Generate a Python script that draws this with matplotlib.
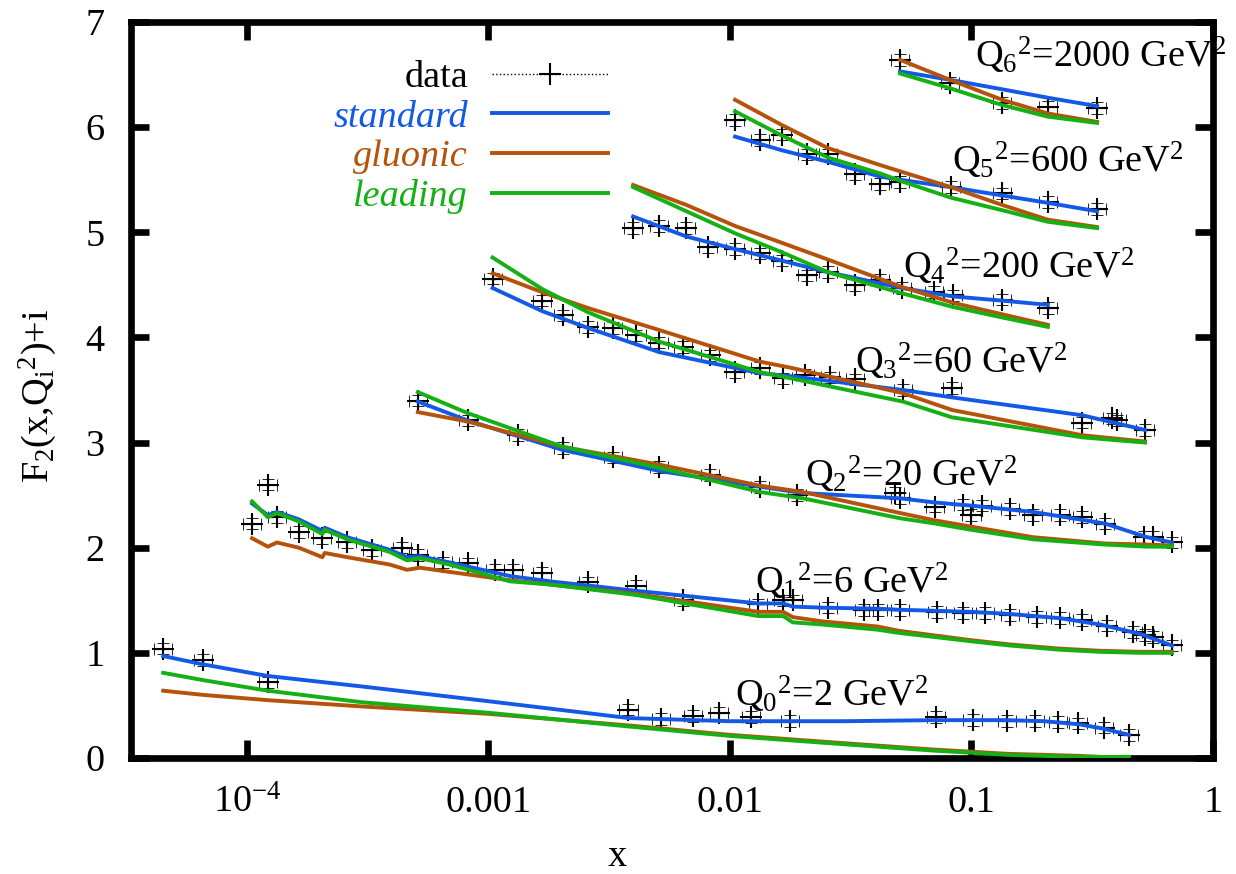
import matplotlib
matplotlib.use("Agg")
import matplotlib.pyplot as plt
from matplotlib.lines import Line2D
import numpy as np

plt.rcParams['font.family'] = ['Liberation Serif', 'DejaVu Serif']
plt.rcParams['mathtext.fontset'] = 'custom'
plt.rcParams['mathtext.rm'] = 'Liberation Serif'
plt.rcParams['mathtext.it'] = 'Liberation Serif:italic'
plt.rcParams['font.size'] = 27.5

# ---- measured F2 (without the +i offset) and model curves, per Q^2 bin ----
q0_x = [4.5e-5, 6.6e-5, 1.22e-4, 3.8e-3, 5.2e-3, 7.0e-3, 9.0e-3, 1.22e-2, 1.77e-2,
        0.071, 0.101, 0.140, 0.183, 0.228, 0.276, 0.354, 0.449]
q0_f2 = [1.04, 0.93, 0.72, 0.46, 0.37, 0.40, 0.43, 0.39, 0.35,
         0.39, 0.36, 0.35, 0.35, 0.34, 0.33, 0.29, 0.22]
q0_cx = [4.5e-5, 6.6e-5, 1.22e-4, 3e-4, 1e-3, 3.8e-3, 1e-2, 3e-2, 0.07, 0.1,
         0.14, 0.2, 0.28, 0.35, 0.449]
q0_std = [0.97, 0.89, 0.78, 0.68, 0.54, 0.38, 0.35, 0.35, 0.36, 0.36, 0.36, 0.35, 0.32, 0.28, 0.22]
q0_glu = [0.64, 0.60, 0.55, 0.49, 0.42, 0.31, 0.22, 0.14, 0.08, 0.06, 0.04, 0.03, 0.02, 0.01, 0.01]
q0_lead = [0.81, 0.74, 0.64, 0.53, 0.43, 0.30, 0.21, 0.13, 0.07, 0.05, 0.03, 0.02, 0.01, 0.01, 0.01]

q1_x = [1.05e-4, 1.22e-4, 1.33e-4, 1.64e-4, 2.05e-4, 2.6e-4, 3.3e-4, 4.4e-4, 5.1e-4,
        6.5e-4, 8.2e-4, 1.06e-3, 1.26e-3, 1.67e-3, 2.58e-3, 4.1e-3, 6.4e-3, 1.31e-2,
        1.66e-2, 1.82e-2, 0.0255, 0.036, 0.041, 0.0506, 0.072, 0.092, 0.114, 0.144,
        0.187, 0.232, 0.287, 0.364, 0.466, 0.523, 0.565, 0.676]
q1_f2 = [1.23, 1.60, 1.29, 1.15, 1.09, 1.05, 0.98, 1.00, 0.93,
         0.86, 0.85, 0.79, 0.79, 0.76, 0.67, 0.64, 0.50, 0.46,
         0.50, 0.50, 0.43, 0.41, 0.41, 0.41, 0.39, 0.38, 0.38, 0.36,
         0.34, 0.33, 0.31, 0.26, 0.20, 0.17, 0.15, 0.07]
q1_cx = [1.05e-4, 1.22e-4, 1.33e-4, 1.64e-4, 2.05e-4, 2.1e-4, 2.6e-4, 3.9e-4, 4.6e-4,
         5.2e-4, 6.9e-4, 1.23e-3, 1.8e-3, 4.1e-3, 1.31e-2, 1.66e-2, 1.82e-2, 2.4e-2,
         0.041, 0.05, 0.1, 0.144, 0.232, 0.34, 0.5, 0.676]
q1_std = [1.42, 1.31, 1.34, 1.27, 1.16, 1.19, 1.10, 0.98, 0.91, 0.92, 0.86, 0.73, 0.68,
          0.59, 0.47, 0.47, 0.44, 0.43, 0.42, 0.41, 0.39, 0.37, 0.33, 0.27, 0.18, 0.07]
q1_glu = [1.09, 1.01, 1.05, 1.00, 0.91, 0.95, 0.91, 0.84, 0.79, 0.81, 0.77, 0.69, 0.65,
          0.56, 0.39, 0.39, 0.34, 0.30, 0.25, 0.21, 0.12, 0.08, 0.04, 0.02, 0.01, 0.01]
q1_lead = [1.44, 1.29, 1.33, 1.25, 1.13, 1.17, 1.08, 0.96, 0.88, 0.90, 0.84, 0.68, 0.65,
           0.55, 0.35, 0.35, 0.29, 0.27, 0.22, 0.19, 0.11, 0.07, 0.03, 0.01, 0.00, 0.00]

q2_x = [5.1e-4, 8.2e-4, 1.33e-3, 2.03e-3, 3.28e-3, 5.1e-3, 8.3e-3, 1.33e-2, 1.89e-2,
        0.048, 0.0506, 0.0706, 0.092, 0.100, 0.111, 0.144, 0.18, 0.232, 0.287, 0.357,
        0.52, 0.565, 0.676]
q2_f2 = [1.40, 1.21, 1.07, 0.95, 0.86, 0.77, 0.69, 0.58, 0.50,
         0.52, 0.47, 0.39, 0.41, 0.31, 0.40, 0.37, 0.31, 0.31, 0.29, 0.23,
         0.10, 0.10, 0.05]
q2_cx = [5.1e-4, 8.2e-4, 2.03e-3, 5.1e-3, 1.33e-2, 2.0e-2, 0.0506, 0.0706, 0.1, 0.18,
         0.357, 0.533, 0.676]
q2_std = [1.39, 1.21, 0.93, 0.73, 0.58, 0.52, 0.47, 0.43, 0.40, 0.34, 0.23, 0.10, 0.05]
q2_glu = [1.29, 1.20, 0.96, 0.79, 0.59, 0.53, 0.33, 0.26, 0.20, 0.10, 0.04, 0.03, 0.02]
q2_lead = [1.48, 1.28, 0.96, 0.76, 0.53, 0.47, 0.28, 0.23, 0.17, 0.08, 0.03, 0.01, 0.01]

q3_x = [1.04e-3, 1.67e-3, 2.03e-3, 2.58e-3, 3.28e-3, 4.1e-3, 5.1e-3, 6.4e-3, 8.3e-3,
        1.05e-2, 1.33e-2, 1.66e-2, 2.05e-2, 2.6e-2, 3.3e-2, 5.2e-2, 8.3e-2, 0.287,
        0.382, 0.40, 0.523]
q3_f2 = [1.56, 1.35, 1.21, 1.10, 1.09, 1.02, 0.95, 0.91, 0.83,
         0.67, 0.71, 0.61, 0.64, 0.62, 0.60, 0.50, 0.52, 0.19,
         0.23, 0.21, 0.12]
q3_cx = [1.04e-3, 1.67e-3, 2.58e-3, 5.1e-3, 1.33e-2, 1.8e-2, 5.2e-2, 8.3e-2, 0.287, 0.523]
q3_std = [1.47, 1.25, 1.09, 0.86, 0.66, 0.63, 0.50, 0.43, 0.26, 0.12]
q3_glu = [1.61, 1.43, 1.28, 1.07, 0.77, 0.71, 0.47, 0.31, 0.07, 0.01]
q3_lead = [1.76, 1.46, 1.24, 0.96, 0.67, 0.61, 0.39, 0.24, 0.05, 0.00]

q4_x = [3.97e-3, 5.1e-3, 6.6e-3, 8.1e-3, 1.05e-2, 1.33e-2, 1.64e-2, 2.08e-2, 2.55e-2,
        3.3e-2, 4.18e-2, 5.15e-2, 7.0e-2, 8.38e-2, 0.134, 0.207]
q4_f2 = [1.04, 1.06, 1.04, 0.86, 0.84, 0.80, 0.73, 0.59, 0.62,
         0.50, 0.55, 0.47, 0.43, 0.40, 0.36, 0.28]
q4_cx = [3.97e-3, 6.6e-3, 1.05e-2, 1.64e-2, 2.55e-2, 5.15e-2, 8.38e-2, 0.134, 0.207]
q4_std = [1.15, 0.96, 0.84, 0.73, 0.62, 0.47, 0.39, 0.35, 0.31]
q4_glu = [1.45, 1.26, 1.06, 0.90, 0.74, 0.48, 0.33, 0.22, 0.12]
q4_lead = [1.43, 1.20, 0.99, 0.81, 0.62, 0.42, 0.29, 0.19, 0.10]

q5_x = [0.0105, 0.0133, 0.0164, 0.0208, 0.0255, 0.033, 0.0418, 0.0506, 0.082, 0.134,
        0.207, 0.331]
q5_f2 = [1.07, 0.88, 0.93, 0.74, 0.74, 0.55, 0.46, 0.48, 0.43, 0.37, 0.29, 0.22]
q5_cx = [0.0105, 0.0164, 0.0255, 0.0418, 0.0506, 0.082, 0.134, 0.207, 0.331]
q5_std = [0.91, 0.78, 0.67, 0.53, 0.50, 0.43, 0.35, 0.28, 0.20]
q5_glu = [1.26, 1.02, 0.80, 0.64, 0.58, 0.43, 0.26, 0.12, 0.05]
q5_lead = [1.15, 0.92, 0.71, 0.56, 0.49, 0.33, 0.21, 0.10, 0.04]

q6_x = [0.0506, 0.0815, 0.134, 0.207, 0.331]
q6_f2 = [0.64, 0.42, 0.23, 0.19, 0.18]
q6_cx = q6_x
q6_std = [0.53, 0.45, 0.36, 0.28, 0.20]
q6_glu = [0.64, 0.45, 0.26, 0.13, 0.05]
q6_lead = [0.51, 0.37, 0.21, 0.10, 0.04]

q2_gev = [2, 6, 20, 60, 200, 600, 2000]

data_x = [q0_x, q1_x, q2_x, q3_x, q4_x, q5_x, q6_x]
data_f2 = [q0_f2, q1_f2, q2_f2, q3_f2, q4_f2, q5_f2, q6_f2]
curve_x = [q0_cx, q1_cx, q2_cx, q3_cx, q4_cx, q5_cx, q6_cx]
curve_std = [q0_std, q1_std, q2_std, q3_std, q4_std, q5_std, q6_std]
curve_glu = [q0_glu, q1_glu, q2_glu, q3_glu, q4_glu, q5_glu, q6_glu]
curve_lead = [q0_lead, q1_lead, q2_lead, q3_lead, q4_lead, q5_lead, q6_lead]

# where the Q_i^2 labels sit (data coords, left/baseline)
label_pos = [(0.0105, 0.49), (0.0127, 1.56), (0.0205, 2.58), (0.033, 3.66),
             (0.052, 4.56), (0.083, 5.57), (0.103, 6.57)]

BLUE = '#1459e6'
BROWN = '#b5520b'
GREEN = '#14b014'
LW = 2.8

fig = plt.figure(figsize=(12.36, 8.74), dpi=100)
ax = fig.add_axes([131 / 1236, 1 - 758 / 874, (1213 - 131) / 1236, (758 - 22) / 874])

for i in range(7):
    x = np.array(data_x[i])
    y = np.array(data_f2[i]) + i
    eb = ax.errorbar(x, y, xerr=[x - x / 1.09, x * 1.09 - x], yerr=0.055,
                     fmt='none', ecolor='k', elinewidth=0.9, capsize=4,
                     capthick=0.6, zorder=2)
    for lc in eb[2]:
        lc.set_linestyle(':')
    for cap in eb[1]:
        cap.set_color('0.45')
    ax.plot(x, y, '+', color='k', ms=16, mew=1.5, zorder=3)

    cx = curve_x[i]
    ax.plot(cx, np.array(curve_std[i]) + i, color=BLUE, lw=LW, zorder=4)
    ax.plot(cx, np.array(curve_glu[i]) + i, color=BROWN, lw=LW, zorder=5)
    ax.plot(cx, np.array(curve_lead[i]) + i, color=GREEN, lw=LW, zorder=6)

    lx, ly = label_pos[i]
    ax.text(lx, ly, 'Q$_{%d}$$^2$=%d GeV$^2$' % (i, q2_gev[i]),
            ha='left', va='baseline', zorder=7)

ax.set_xscale('log')
ax.set_xlim(3.31e-5, 1)
ax.set_ylim(0, 7)

ax.set_xticks([1e-4, 1e-3, 1e-2, 1e-1, 1],
              ['10$^{-4}$', '0.001', '0.01', '0.1', '1'])
ax.xaxis.set_minor_locator(matplotlib.ticker.NullLocator())
ax.set_yticks(range(8))

for s in ax.spines.values():
    s.set_linewidth(4.8)
ax.tick_params(which='major', direction='in', length=13, width=4.8,
               top=True, right=True)
ax.tick_params(axis='x', pad=39)
ax.tick_params(axis='y', pad=19)
for t in ax.get_xticklabels():
    t.set_verticalalignment('baseline')

ax.set_xlabel('x', va='center')
ax.xaxis.set_label_coords(0.449, -0.134)
ax.set_ylabel('F$_2$(x,Q$_\\mathrm{i}$$^2$)+i', va='center')
ax.yaxis.set_label_coords(-0.086, 0.492)

handles = [Line2D([], [], color='k', ls=':', lw=1.0, marker='+', ms=16, mew=1.5),
           Line2D([], [], color=BLUE, lw=LW),
           Line2D([], [], color=BROWN, lw=LW),
           Line2D([], [], color=GREEN, lw=LW)]
leg = ax.legend(handles, ['data', 'standard', 'gluonic', 'leading'],
                loc='upper right', bbox_to_anchor=(0.441, 0.948),
                frameon=False, markerfirst=False, handlelength=3.05,
                handletextpad=0.62, labelspacing=0.13, borderpad=0,
                borderaxespad=0, numpoints=1)
for txt, col, sty in zip(leg.get_texts(), ['k', BLUE, BROWN, GREEN],
                         ['normal', 'italic', 'italic', 'italic']):
    txt.set_color(col)
    txt.set_fontstyle(sty)

fig.savefig('out.png', dpi=100)
